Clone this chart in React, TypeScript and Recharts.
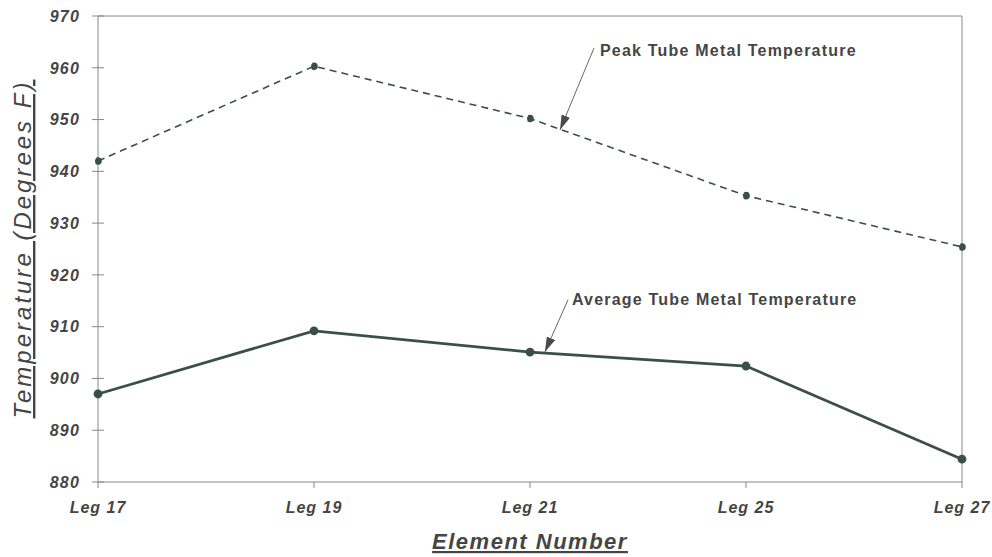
import { LineChart, Line, XAxis, YAxis, ReferenceLine, ReferenceDot } from "recharts";

const categories = ["Leg 17", "Leg 19", "Leg 21", "Leg 25", "Leg 27"];
const peakTemps = [942, 960.3, 950.2, 935.3, 925.4];
const avgTemps = [897, 909.2, 905.1, 902.4, 884.4];
const yTicks = [880, 890, 900, 910, 920, 930, 940, 950, 960, 970];

// annotation arrows, in data units (x = category index)
const peakArrow = [
  { x: 2.296, v: 963.8 },
  { x: 2.139, v: 948.0 },
];
const avgArrow = [
  { x: 2.176, v: 915.2 },
  { x: 2.069, v: 905.1 },
];

const data = categories.map((c, i) => ({ x: i, name: c, peak: peakTemps[i], avg: avgTemps[i] }));

const font = "'Liberation Sans', Arial, sans-serif";
const textColor = "#454545";
const lineColor = "#3b4f49";
const axisColor = "#888";

function YTick(props: any) {
  const { x, y, payload } = props;
  return (
    <g>
      <line x1={x + 18} x2={x + 24} y1={y} y2={y} stroke={axisColor} strokeWidth={1} />
      <text
        x={x}
        y={y}
        dy="0.36em"
        textAnchor="end"
        fill={textColor}
        fontFamily={font}
        fontSize={16}
        fontWeight="bold"
        fontStyle="italic"
        letterSpacing={1.2}
      >
        {payload.value}
      </text>
    </g>
  );
}

function XTick(props: any) {
  const { x, y, payload } = props;
  return (
    <text
      x={x}
      y={y}
      dy="0.71em"
      textAnchor="middle"
      fill={textColor}
      fontFamily={font}
      fontSize={16}
      fontWeight="bold"
      fontStyle="italic"
      letterSpacing={1}
    >
      {categories[payload.value]}
    </text>
  );
}

function Note({ text }: { text: string }) {
  return (props: any) => {
    const { viewBox } = props;
    return (
      <text
        x={viewBox.x}
        y={viewBox.y}
        fill={textColor}
        fontFamily={font}
        fontSize={16}
        fontWeight="bold"
        letterSpacing={1.2}
      >
        {text}
      </text>
    );
  };
}

export default function App() {
  return (
    <div style={{ position: "absolute", left: 0, top: 0, background: "#fff" }}>
      <LineChart width={992} height={557} data={data} margin={{ top: 16, right: 30, left: 0, bottom: 35 }}>
        <defs>
          <marker
            id="arrowHead"
            markerUnits="userSpaceOnUse"
            markerWidth={15}
            markerHeight={9}
            refX={15}
            refY={4.5}
            orient="auto"
          >
            <path d="M0,0 L15,4.5 L0,9 z" fill="#4a4a4a" />
          </marker>
        </defs>
        <XAxis
          dataKey="x"
          type="number"
          domain={[0, 4]}
          ticks={[0, 1, 2, 3, 4]}
          height={40}
          stroke={axisColor}
          tickSize={6}
          tickMargin={14}
          tick={<XTick />}
          label={{
            content: (p: any) => (
              <text
                x={p.viewBox.x + p.viewBox.width / 2}
                y={p.viewBox.y + 67}
                textAnchor="middle"
                fill={textColor}
                fontFamily={font}
                fontSize={22}
                fontWeight="bold"
                fontStyle="italic"
                textDecoration="underline"
                letterSpacing={1.5}
              >
                Element Number
              </text>
            ),
          }}
        />
        <YAxis
          domain={[880, 970]}
          ticks={yTicks}
          width={98}
          stroke={axisColor}
          tickSize={6}
          tickMargin={12}
          tick={<YTick />}
          label={{
            content: (p: any) => (
              <text
                x={31}
                y={p.viewBox.y + p.viewBox.height / 2}
                transform={`rotate(-90, 31, ${p.viewBox.y + p.viewBox.height / 2})`}
                textAnchor="middle"
                fill={textColor}
                fontFamily={font}
                fontSize={24}
                fontStyle="italic"
                textDecoration="underline"
                letterSpacing={3}
              >
                Temperature (Degrees F)
              </text>
            ),
          }}
        />
        <ReferenceLine y={970} stroke={axisColor} />
        <ReferenceLine x={4} stroke={axisColor} />
        <Line
          dataKey="peak"
          stroke={lineColor}
          strokeWidth={1.6}
          strokeDasharray="7 5"
          dot={{ r: 3, fill: lineColor, stroke: lineColor }}
          isAnimationActive={false}
        />
        <Line
          dataKey="avg"
          stroke={lineColor}
          strokeWidth={2.8}
          dot={{ r: 3, fill: lineColor, stroke: lineColor }}
          isAnimationActive={false}
        />
        <Line
          data={peakArrow}
          dataKey="v"
          stroke="#666"
          strokeWidth={1}
          dot={false}
          markerEnd="url(#arrowHead)"
          isAnimationActive={false}
        />
        <Line
          data={avgArrow}
          dataKey="v"
          stroke="#666"
          strokeWidth={1}
          dot={false}
          markerEnd="url(#arrowHead)"
          isAnimationActive={false}
        />
        <ReferenceDot x={2.324} y={962.3} r={0} fill="none" stroke="none" label={{ content: Note({ text: "Peak Tube Metal Temperature" }) }} />
        <ReferenceDot x={2.194} y={914.2} r={0} fill="none" stroke="none" label={{ content: Note({ text: "Average Tube Metal Temperature" }) }} />
      </LineChart>
    </div>
  );
}
